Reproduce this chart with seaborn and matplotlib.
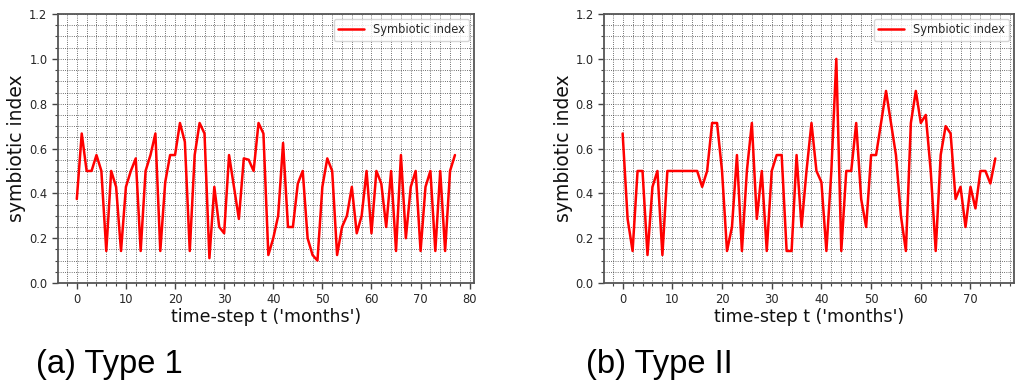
import pandas as pd
import seaborn as sns
import matplotlib.pyplot as plt
from matplotlib.ticker import AutoMinorLocator

# symbiotic index per month, Type 1 (78 steps) and Type II (76 steps)
type1_vals = [0.375, 0.667, 0.5, 0.5, 0.571, 0.5, 0.143, 0.5, 0.429, 0.143,
              0.429, 0.5, 0.556, 0.143, 0.5, 0.571, 0.667, 0.143, 0.45, 0.571,
              0.571, 0.714, 0.63, 0.143, 0.571, 0.714, 0.667, 0.111, 0.429, 0.25,
              0.222, 0.571, 0.429, 0.286, 0.556, 0.55, 0.5, 0.714, 0.667, 0.125,
              0.2, 0.3, 0.625, 0.25, 0.25, 0.444, 0.5, 0.2, 0.125, 0.1,
              0.429, 0.556, 0.5, 0.125, 0.25, 0.3, 0.429, 0.222, 0.3, 0.5,
              0.222, 0.5, 0.444, 0.25, 0.5, 0.143, 0.571, 0.2, 0.429, 0.5,
              0.143, 0.429, 0.5, 0.143, 0.5, 0.143, 0.5, 0.571]
type2_vals = [0.667, 0.286, 0.143, 0.5, 0.5, 0.125, 0.429, 0.5, 0.125, 0.5,
              0.5, 0.5, 0.5, 0.5, 0.5, 0.5, 0.429, 0.5, 0.714, 0.714,
              0.5, 0.143, 0.25, 0.571, 0.143, 0.5, 0.714, 0.286, 0.5, 0.143,
              0.5, 0.571, 0.571, 0.143, 0.143, 0.571, 0.25, 0.5, 0.714, 0.5,
              0.45, 0.143, 0.5, 1.0, 0.143, 0.5, 0.5, 0.714, 0.375, 0.25,
              0.571, 0.571, 0.714, 0.857, 0.714, 0.571, 0.3, 0.143, 0.714, 0.857,
              0.714, 0.75, 0.5, 0.143, 0.571, 0.7, 0.667, 0.375, 0.429, 0.25,
              0.429, 0.333, 0.5, 0.5, 0.444, 0.556]
captions = ['(a) Type 1', '(b) Type II']

sns.set_style('white')

fig = plt.figure(figsize=(10.16, 3.83), dpi=100)
ax1 = fig.add_axes([0.057, 0.261, 0.4094, 0.7023])
ax2 = fig.add_axes([0.5945, 0.261, 0.4035, 0.7023])

for ax, vals, cap, cx in zip([ax1, ax2], [type1_vals, type2_vals], captions, [0.0355, 0.577]):
    df = pd.DataFrame({'t': range(len(vals)), 'index': vals})
    sns.lineplot(data=df, x='t', y='index', color='red', linewidth=1.8,
                 label='Symbiotic index', ax=ax)
    ax.set_ylim(0, 1.2)
    ax.xaxis.set_minor_locator(AutoMinorLocator())
    ax.yaxis.set_minor_locator(AutoMinorLocator())
    ax.grid(which='both', linestyle=':', color='black', linewidth=0.6, alpha=0.75)
    ax.tick_params(which='major', direction='out', length=4, width=1, labelsize=8.3,
                   bottom=True, left=True, color='#444444')
    ax.tick_params(which='minor', direction='out', length=2, width=0.8,
                   bottom=True, left=True, color='#444444')
    for s in ax.spines.values():
        s.set_color('#555555')
        s.set_linewidth(1.3)
    ax.set_xlabel("time-step t ('months')", fontsize=12.5, labelpad=1, color='#111111')
    ax.set_ylabel('symbiotic index', fontsize=13.5, labelpad=2, color='#111111')
    ax.legend(loc='upper right', fontsize=8.3, handlelength=2.2, borderaxespad=0.4)
    fig.text(cx, 0.047, cap, fontsize=23.5, family='Liberation Sans', va='center',
             color='black')

fig.savefig('out.png', dpi=100)
